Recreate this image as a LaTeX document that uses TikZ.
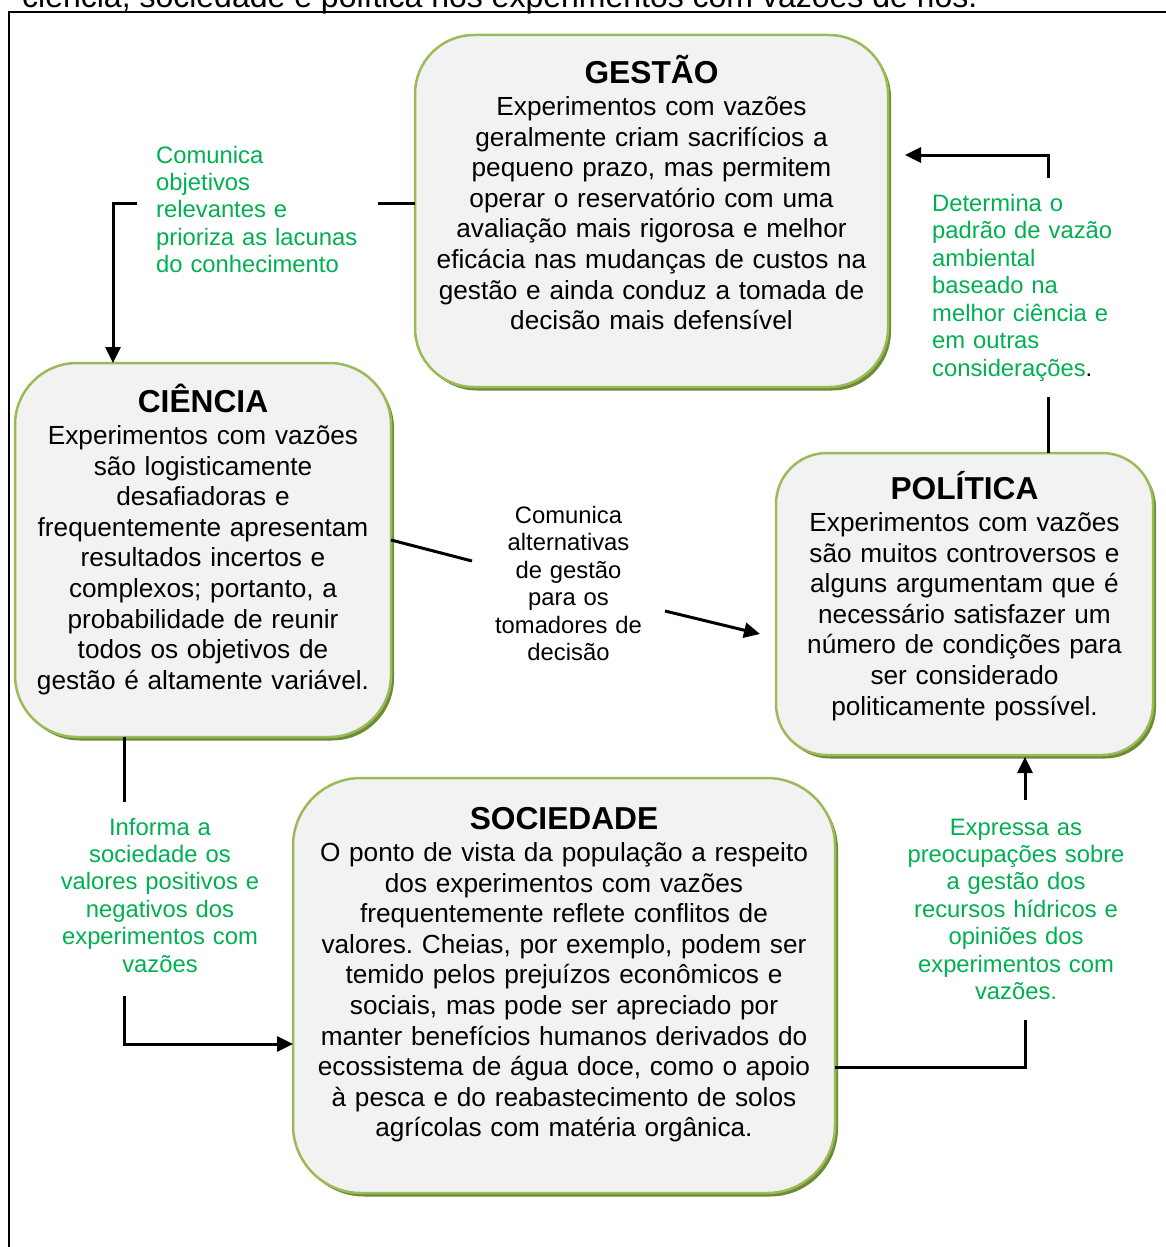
\documentclass[tikz,border=0pt]{standalone}
\usepackage{fontspec}
\setmainfont{Liberation Sans}
\usetikzlibrary{arrows.meta,shadows}
\definecolor{boxfill}{HTML}{F2F2F2}
\definecolor{boxline}{HTML}{9BBB59}
\definecolor{boxshade}{HTML}{6E8B35}
\definecolor{labelgreen}{HTML}{00B050}
\frenchspacing
\begin{document}
\begin{tikzpicture}[x=1pt,y=-1pt,
  box/.style={draw=boxline, line width=2.5pt, fill=boxfill, anchor=north west,
    inner sep=0pt, outer sep=0pt,
    drop shadow={shadow xshift=3pt, shadow yshift=-3.5pt, fill=boxshade, opacity=1}},
  boxtitle/.style={font=\fontsize{31.7}{36}\selectfont\bfseries, anchor=base, inner sep=0pt},
  boxbody/.style={font=\fontsize{26.2}{30.6}\selectfont, anchor=base, align=center,
    inner sep=0pt},
  lab/.style={font=\fontsize{23.8}{27.45}\selectfont, anchor=base, inner sep=0pt},
  conn/.style={line width=3pt, line join=miter},
  arr/.style={conn, -{Triangle[length=16pt,width=15pt]}}]

\useasboundingbox (0,0) rectangle (1166,1247);

% caption line running off the top edge
\node[anchor=base west, inner sep=0pt, font=\fontsize{32}{36}\selectfont] (caption) at (22,8)
  {ciência, sociedade e política nos experimentos com vazões de rios.};

% frame
\draw[line width=2.4pt] (1170,12) -- (8.7,12) -- (8.7,1250);

% boxes
\node[box, rounded corners=59pt, minimum width=473pt, minimum height=352pt] (gestao) at (415,35) {};
\node[box, rounded corners=62pt, minimum width=376pt, minimum height=374pt] (ciencia) at (15,363) {};
\node[box, rounded corners=51pt, minimum width=377pt, minimum height=302pt] (politica) at (776,453) {};
\node[box, rounded corners=68pt, minimum width=542pt, minimum height=415pt] (sociedade) at (293,778) {};

% box texts
\node[boxtitle] (gestaoT) at (651.5,83.5) {GESTÃO};
\node[boxbody, text width=470pt] (gestaoB) at (651.5,115.5)
  {Experimentos com vazões\\ geralmente criam sacrifícios a\\ pequeno prazo, mas permitem\\
   operar o reservatório com uma\\ avaliação mais rigorosa e melhor\\
   eficácia nas mudanças de custos na\\ gestão e ainda conduz a tomada de\\ decisão mais defensível};

\node[boxtitle] (cienciaT) at (203,412.5) {CIÊNCIA};
\node[boxbody, text width=374pt] (cienciaB) at (203,444.5)
  {Experimentos com vazões\\ são logisticamente\\ desafiadoras e\\ frequentemente apresentam\\
   resultados incertos e\\ complexos; portanto, a\\ probabilidade de reunir\\
   todos os objetivos de\\ gestão é altamente variável.};

\node[boxtitle] (politicaT) at (964.5,499.5) {POLÍTICA};
\node[boxbody, text width=374pt] (politicaB) at (964.5,531.5)
  {Experimentos com vazões\\ são muitos controversos e\\ alguns argumentam que é\\
   necessário satisfazer um\\ número de condições para\\ ser considerado\\ politicamente possível.};

\node[boxtitle] (sociedadeT) at (564,829.5) {SOCIEDADE};
\node[boxbody, text width=540pt] (sociedadeB) at (564,861.5)
  {O ponto de vista da população a respeito\\ dos experimentos com vazões\\
   frequentemente reflete conflitos de\\ valores. Cheias, por exemplo, podem ser\\
   temido pelos prejuízos econômicos e\\ sociais, mas pode ser apreciado por\\
   manter benefícios humanos derivados do\\ ecossistema de água doce, como o apoio\\
   à pesca e do reabastecimento de solos\\ agrícolas com matéria orgânica.};

% connector labels
\node[lab, anchor=base west, text=labelgreen, align=left, text width=220pt] (labA) at (156,163)
  {Comunica\\ objetivos\\ relevantes e\\ prioriza as lacunas\\ do conhecimento};
\node[lab, anchor=base west, text=labelgreen, align=left, text width=220pt] (labB) at (932,211.5)
  {Determina o\\ padrão de vazão\\ ambiental\\ baseado na\\ melhor ciência e\\ em outras\\
   considerações\textcolor{black}{.}};
\node[lab, align=center, text width=200pt] (labC) at (568.5,523.5)
  {Comunica\\ alternativas\\ de gestão\\ para os\\ tomadores de\\ decisão};
\node[lab, text=labelgreen, align=center, text width=220pt] (labD) at (160,835)
  {Informa a\\ sociedade os\\ valores positivos e\\ negativos dos\\ experimentos com\\ vazões};
\node[lab, text=labelgreen, align=center, text width=220pt] (labE) at (1016,835)
  {Expressa as\\ preocupações sobre\\ a gestão dos\\ recursos hídricos e\\ opiniões dos\\
   experimentos com\\ vazões.};

% connector break points
\coordinate (a1) at (378,203);
\coordinate (a2) at (137,203);
\coordinate (a3) at (113,203);
\coordinate (b1) at (1048,397);
\coordinate (b2) at (1048,178);
\coordinate (b3) at (1048,155);
\coordinate (c1) at (472,561);
\coordinate (c2) at (665,611);
\coordinate (d1) at (124,802);
\coordinate (d2) at (124,996);
\coordinate (d3) at (124,1044);
\coordinate (e1) at (1025,1067);
\coordinate (e2) at (1025,1020);
\coordinate (e3) at (1025,800);

% GESTÃO -> CIÊNCIA
\draw[conn] (gestao.west |- a1) -- (a1);
\draw[arr] (a2) -- (a3) -- (a3 |- ciencia.north);
% POLÍTICA -> GESTÃO
\draw[conn] (politica.north -| b1) -- (b1);
\draw[arr] (b2) -- (b3) -- ([xshift=17pt]gestao.east |- b3);
% CIÊNCIA -> POLÍTICA
\draw[conn] ([yshift=10pt]ciencia.east) -- (c1);
\draw[arr] (c2) -- ([xshift=-16pt,yshift=-30pt]politica.west);
% CIÊNCIA -> SOCIEDADE
\draw[conn] (ciencia.south -| d1) -- (d1);
\draw[arr] (d2) -- (d3) -- (sociedade.west |- d3);
% SOCIEDADE -> POLÍTICA
\draw[conn] (sociedade.east |- e1) -- (e1) -- (e2);
\draw[arr] (e3) -- ([yshift=-2pt]politica.south -| e3);

\end{tikzpicture}
\end{document}
